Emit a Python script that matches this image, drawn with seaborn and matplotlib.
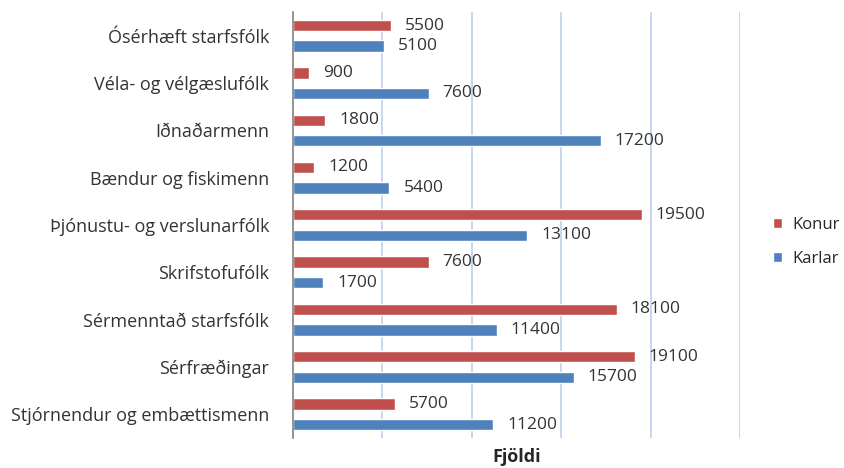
import pandas as pd
import seaborn as sns
import matplotlib.pyplot as plt

categories = [
    "Ósérhæft starfsfólk",
    "Véla- og vélgæslufólk",
    "Iðnaðarmenn",
    "Bændur og fiskimenn",
    "Þjónustu- og verslunarfólk",
    "Skrifstofufólk",
    "Sérmenntað starfsfólk",
    "Sérfræðingar",
    "Stjórnendur og embættismenn",
]
konur = [5500, 900, 1800, 1200, 19500, 7600, 18100, 19100, 5700]
karlar = [5100, 7600, 17200, 5400, 13100, 1700, 11400, 15700, 11200]
series = ["Konur", "Karlar"]

df = pd.DataFrame({
    "Starf": categories * 2,
    "Fjöldi": konur + karlar,
    "Kyn": [series[0]] * len(categories) + [series[1]] * len(categories),
})

sns.set_style("white")
plt.rcParams["font.family"] = ["Open Sans", "DejaVu Sans"]

fig = plt.figure(figsize=(8.44, 4.68), dpi=100)
ax = fig.add_axes([0.347, 0.064, 0.530, 0.910])

sns.barplot(data=df, y="Starf", x="Fjöldi", hue="Kyn", hue_order=series,
            palette=["#C0504D", "#4F81BD"], saturation=1, orient="h",
            width=0.87, gap=0.45, ax=ax, errorbar=None)

for cont in ax.containers:
    ax.bar_label(cont, fmt="%d", padding=10, fontsize=12.5, color="#333333")

ax.set_xlim(0, 25000)
ax.set_xticks([5000, 10000, 15000, 20000, 25000])
ax.set_xticklabels([])
ax.tick_params(axis="x", length=0)
ax.grid(axis="x", color="#BCD0F0", linewidth=1.2)
ax.set_axisbelow(True)

# category boundaries carry the tick marks, names sit at the band centres
ax.set_ylim(len(categories) - 0.5, -0.5)
ax.set_yticks([i - 0.5 for i in range(len(categories) + 1)], minor=False)
ax.set_yticklabels([])
ax.set_yticks(range(len(categories)), minor=True)
ax.set_yticklabels(categories, minor=True, fontsize=13, color="#333333")
ax.tick_params(axis="y", which="major", length=5, color="#808080", width=1.2)
ax.tick_params(axis="y", which="minor", length=0, pad=17)

for s in ["top", "right", "bottom"]:
    ax.spines[s].set_visible(False)
ax.spines["left"].set_color("#808080")
ax.spines["left"].set_linewidth(1.2)

ax.set_ylabel("")
ax.set_xlabel("Fjöldi", fontsize=13, fontweight="bold", labelpad=4)

ax.legend(title=None, frameon=False, loc="center left",
          bbox_to_anchor=(1.04, 0.46), handlelength=0.55, handleheight=0.55,
          labelspacing=1.1, fontsize=12, handletextpad=0.6)

fig.savefig("out.png", dpi=100)
